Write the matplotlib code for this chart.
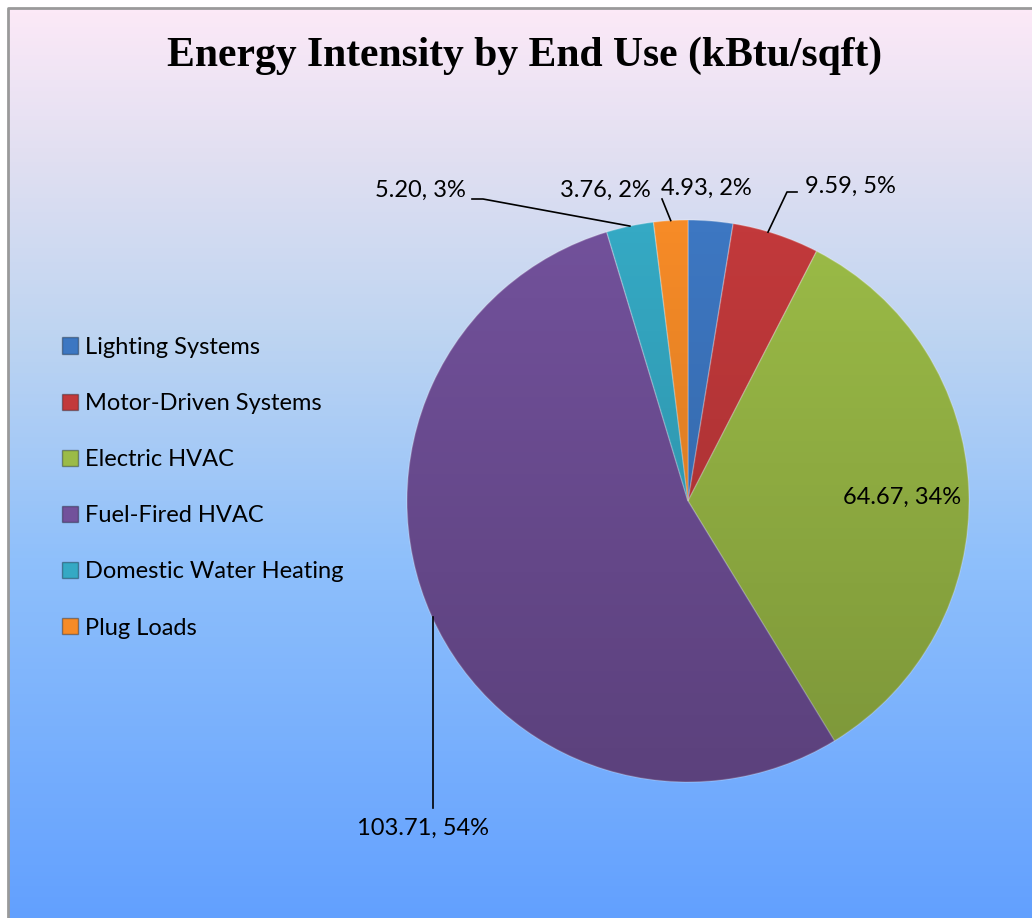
import numpy as np
import matplotlib.pyplot as plt
from matplotlib.colors import LinearSegmentedColormap
from matplotlib.patches import Circle

categories = ['Lighting Systems', 'Motor-Driven Systems', 'Electric HVAC',
              'Fuel-Fired HVAC', 'Domestic Water Heating', 'Plug Loads']
values = [4.93, 9.59, 64.67, 103.71, 5.20, 3.76]
pct_labels = [2, 5, 34, 54, 3, 2]
colors = ['#3d77c2', '#c2393b', '#9bbb47', '#72519b', '#35a9c4', '#f68b27']

W, H = 1032, 918
fig = plt.figure(figsize=(W / 100, H / 100), dpi=100)
ax = fig.add_axes([0, 0, 1, 1])

# background gradient inside the chart frame
bg = LinearSegmentedColormap.from_list('bg', [
    (0.0, '#fce9f7'), (0.15, '#e3e0f2'), (0.35, '#bfd5f1'),
    (0.6, '#8fc0fb'), (1.0, '#62a0ff')])
grad = np.linspace(0, 1, 256).reshape(-1, 1)
ax.imshow(grad, cmap=bg, aspect='auto', extent=[9, W + 4, -4, H - 9], origin='upper', zorder=0)
ax.plot([8, 8, W + 4], [-4, H - 8, H - 8], color='#9a9a9a', lw=2, zorder=1)

def py(y):
    return H - y

cx, cy, r = 688, py(501), 281
wedges, _ = ax.pie(values, colors=colors, startangle=90, counterclock=False,
                   center=(cx, cy), radius=r, frame=True,
                   wedgeprops=dict(edgecolor='#ffffff40', linewidth=1, zorder=3))
ax.set_xlim(0, W)
ax.set_ylim(0, H)
ax.set_aspect('equal')
ax.axis('off')

# darkening toward the bottom of the pie
shade = np.linspace(0, 1, 256).reshape(-1, 1)
shade_cmap = LinearSegmentedColormap.from_list('sh', [(0, 0, 0, 0.0), (0, 0, 0, 0.2)])
im = ax.imshow(shade, cmap=shade_cmap, aspect='auto',
               extent=[cx - r, cx + r, cy - r, cy + r], origin='upper', zorder=4)
im.set_clip_path(Circle((cx, cy), r, transform=ax.transData))

fam = ['Lato', 'DejaVu Sans']
fs = 17

def edge_point(i):
    th = np.deg2rad((wedges[i].theta1 + wedges[i].theta2) / 2)
    return cx + r * np.cos(th), cy + r * np.sin(th)

def lab(i):
    return f'{values[i]:.2f}, {pct_labels[i]}%'

ax.text(902, py(497), lab(2), ha='center', va='center', fontsize=fs, family=fam, zorder=6)

ax.text(706, py(188), lab(0), ha='center', va='center', fontsize=fs, family=fam, zorder=6)

ex, ey = edge_point(1)
ax.plot([797, 787, ex - 8], [py(192), py(192), ey + 2], color='black', lw=1.2, zorder=5)
ax.text(850, py(186), lab(1), ha='center', va='center', fontsize=fs, family=fam, zorder=6)

ex, ey = edge_point(4)
ax.plot([472, 483, ex], [py(199), py(199), ey], color='black', lw=1.2, zorder=5)
ax.text(420, py(190), lab(4), ha='center', va='center', fontsize=fs, family=fam, zorder=6)

ex, ey = edge_point(5)
ax.plot([662, ex], [py(199), ey], color='black', lw=1.2, zorder=5)
ax.text(605, py(190), lab(5), ha='center', va='center', fontsize=fs, family=fam, zorder=6)

ax.plot([433, 433], [py(617), py(808)], color='black', lw=1.2, zorder=5)
ax.text(423, py(828), lab(3), ha='center', va='center', fontsize=fs, family=fam, zorder=6)

ax.text(525, py(56), 'Energy Intensity by End Use (kBtu/sqft)', ha='center', va='center',
        fontsize=30, fontweight='bold', family='Liberation Serif', zorder=6)

leg = ax.legend(wedges, categories, loc='upper left', bbox_to_anchor=(57 / W, 1 - 332 / H),
                frameon=False, prop=dict(family=fam, size=fs), handlelength=0.68,
                handleheight=0.68, handletextpad=0.3, labelspacing=1.49, borderaxespad=0,
                borderpad=0.2)
for h in leg.legend_handles:
    h.set_edgecolor('#00000055')

fig.savefig('out.png', dpi=100)
